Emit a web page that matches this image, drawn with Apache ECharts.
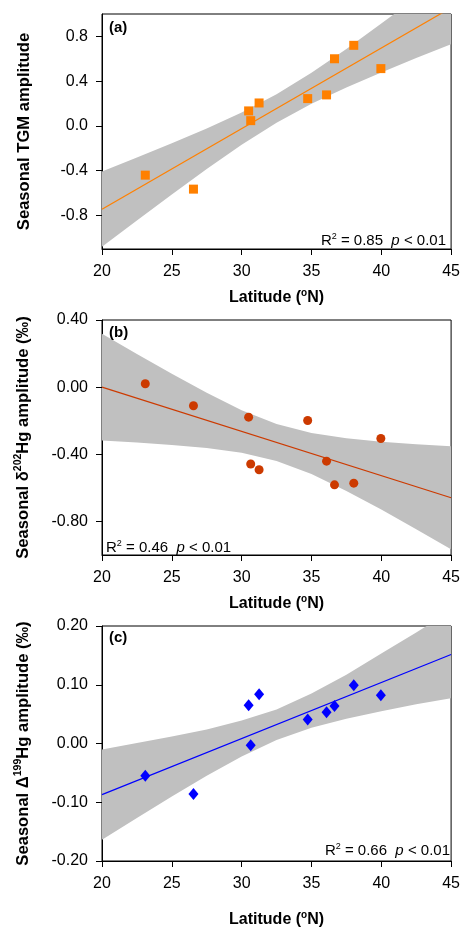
<!DOCTYPE html>
<html>
<head>
<meta charset="utf-8">
<script src="https://cdn.jsdelivr.net/npm/echarts@6/dist/echarts.min.js"></script>
<style>
html,body{margin:0;padding:0;background:#fff;}
#chart{width:463px;height:929px;}
</style>
</head>
<body>
<div id="chart"></div>
<script>
// ---- data ----
const latitude = [23.1, 26.55, 30.5, 30.65, 31.25, 34.73, 36.08, 36.65, 38.03, 39.97];
const tgmAmp   = [-0.44, -0.565, 0.134, 0.047, 0.205, 0.244, 0.277, 0.60, 0.72, 0.512];
const d202Amp  = [0.02, -0.111, -0.179, -0.458, -0.492, -0.199, -0.441, -0.582, -0.572, -0.306];
const D199Amp  = [-0.055, -0.086, 0.065, -0.003, 0.084, 0.041, 0.053, 0.064, 0.099, 0.082];

// regression lines (end points)
const fitX      = [20, 45];
const tgmFitY   = [-0.744, 1.056];
const d202FitY  = [0.0, -0.659];
const D199FitY  = [-0.087, 0.1515];

// confidence bands
const bandX      = [20, 22.5, 25, 27.5, 30, 32.5, 35, 37.5, 40, 42.5, 45];
const tgmUpper   = [-0.407, -0.283, -0.156, -0.023, 0.120, 0.283, 0.474, 0.688, 0.914, 1.146, 1.382];
const tgmLower   = [-1.081, -0.845, -0.612, -0.385, -0.168, 0.029, 0.198, 0.344, 0.478, 0.606, 0.730];
const d202Upper  = [0.318, 0.198, 0.080, -0.033, -0.137, -0.220, -0.273, -0.305, -0.325, -0.340, -0.352];
const d202Lower  = [-0.318, -0.330, -0.344, -0.363, -0.391, -0.440, -0.517, -0.618, -0.729, -0.846, -0.966];
const D199Upper  = [-0.010, 0.001, 0.012, 0.024, 0.039, 0.058, 0.085, 0.117, 0.153, 0.189, 0.226];
const D199Lower  = [-0.164, -0.127, -0.090, -0.055, -0.022, 0.006, 0.027, 0.042, 0.055, 0.067, 0.077];

// axis ticks
const xTicks    = [20, 25, 30, 35, 40, 45];
const tgmTicks  = [-0.8, -0.4, 0.0, 0.4, 0.8];
const d202Ticks = [-0.8, -0.4, 0.0, 0.4];
const D199Ticks = [-0.2, -0.1, 0.0, 0.1, 0.2];

// ---- chart ----
const FONT = 'Liberation Sans, Arial, sans-serif';
const chart = echarts.init(document.getElementById('chart'), null, {renderer: 'canvas'});

const grids = [
  {left: 102, width: 352, top: 14, height: 235},
  {left: 102, width: 352, top: 320, height: 235},
  {left: 102, width: 352, top: 626, height: 235}
].map(g => Object.assign({show: true, borderColor: '#000', borderWidth: 1, backgroundColor: 'transparent'}, g));

const latName = '{n|Latitude (}{s|o}{n|N)}';
const nameRich = {
  n: {fontFamily: FONT, fontWeight: 'bold', fontSize: 16, color: '#000'},
  s: {fontFamily: FONT, fontWeight: 'bold', fontSize: 10, color: '#000', padding: [0, 0, 9, 0]}
};
const yNameRich = {
  n: {fontFamily: FONT, fontWeight: 'bold', fontSize: 16.6, color: '#000'},
  s: {fontFamily: FONT, fontWeight: 'bold', fontSize: 10.5, color: '#000', padding: [0, 0, 9, 0]}
};

function xAxis(i, gap) {
  return {
    type: 'value', gridIndex: i, min: 20, max: 45, interval: 5,
    name: latName, nameLocation: 'middle', nameGap: gap,
    nameTextStyle: {rich: nameRich},
    axisLine: {show: true, onZero: false, lineStyle: {color: '#000', width: 1}},
    axisTick: {show: true, length: 6, inside: false, lineStyle: {color: '#000'}, customValues: xTicks},
    axisLabel: {color: '#000', fontFamily: FONT, fontSize: 16, margin: 15, customValues: xTicks},
    splitLine: {show: false}
  };
}
function yAxis(i, min, max, ticks, dec, name) {
  return {
    type: 'value', gridIndex: i, min: min, max: max,
    name: name, nameLocation: 'middle', nameGap: 69, nameRotate: 90,
    nameTextStyle: {rich: yNameRich},
    axisLine: {show: true, onZero: false, lineStyle: {color: '#000', width: 1}},
    axisTick: {show: true, length: 6, inside: false, lineStyle: {color: '#000'}, customValues: ticks},
    axisLabel: {color: '#000', fontFamily: FONT, fontSize: 16, margin: 14, customValues: ticks,
      formatter: v => (Math.abs(v) < 1e-9 ? 0 : v).toFixed(dec)},
    splitLine: {show: false}
  };
}

function bandSeries(i, upper, lower) {
  return {
    type: 'custom', xAxisIndex: i, yAxisIndex: i, clip: true, silent: true, z: 1,
    data: [[bandX[0], lower[0]]],
    renderItem: function (params, api) {
      const pts = [];
      for (let k = 0; k < bandX.length; k++) pts.push(api.coord([bandX[k], upper[k]]));
      for (let k = bandX.length - 1; k >= 0; k--) pts.push(api.coord([bandX[k], lower[k]]));
      const cs = params.coordSys;
      return {
        type: 'polygon',
        shape: {points: pts},
        style: {fill: '#c0c0c0', stroke: null},
        clipPath: {type: 'rect', shape: {x: cs.x, y: cs.y, width: cs.width, height: cs.height}}
      };
    }
  };
}
function fitSeries(i, ys, color) {
  return {
    type: 'line', xAxisIndex: i, yAxisIndex: i, clip: true, silent: true, z: 2,
    symbol: 'none', data: fitX.map((x, k) => [x, ys[k]]),
    lineStyle: {color: color, width: 1.2}
  };
}
function pointSeries(i, ys, symbol, size, color) {
  return {
    type: 'scatter', xAxisIndex: i, yAxisIndex: i, z: 3,
    symbol: symbol, symbolSize: size,
    data: latitude.map((x, k) => [x, ys[k]]),
    itemStyle: {color: color, opacity: 1}
  };
}

const statRich = {
  r: {fontFamily: FONT, fontSize: 15, color: '#000'},
  s: {fontFamily: FONT, fontSize: 9, color: '#000', padding: [0, 0, 8, 0]},
  i: {fontFamily: FONT, fontSize: 15, color: '#000', fontStyle: 'italic'}
};
function statText(r2) {
  return '{r|R}{s|2}{r| = ' + r2 + '  }{i|p}{r| < 0.01}';
}
function panelLabel(txt, x, y) {
  return {type: 'text', left: x, top: y, z: 10,
    style: {text: txt, fontFamily: FONT, fontWeight: 'bold', fontSize: 15, fill: '#000'}};
}

const option = {
  animation: false,
  backgroundColor: '#fff',
  textStyle: {fontFamily: FONT},
  grid: grids,
  xAxis: [xAxis(0, 39), xAxis(1, 39), xAxis(2, 49)],
  yAxis: [
    yAxis(0, -1.1, 1.0, tgmTicks, 1, '{n|Seasonal TGM amplitude}'),
    yAxis(1, -1.0, 0.4, d202Ticks, 2, '{n|Seasonal δ}{s|202}{n|Hg amplitude (‰)}'),
    yAxis(2, -0.2, 0.2, D199Ticks, 2, '{n|Seasonal Δ}{s|199}{n|Hg amplitude (‰)}')
  ],
  series: [
    bandSeries(0, tgmUpper, tgmLower),
    fitSeries(0, tgmFitY, '#ff8000'),
    pointSeries(0, tgmAmp, 'rect', 9, '#ff8000'),
    bandSeries(1, d202Upper, d202Lower),
    fitSeries(1, d202FitY, '#cc3a00'),
    pointSeries(1, d202Amp, 'circle', 9, '#cc3a00'),
    bandSeries(2, D199Upper, D199Lower),
    fitSeries(2, D199FitY, '#0000ff'),
    pointSeries(2, D199Amp, 'diamond', [10, 12], '#0000ff')
  ],
  graphic: [
    panelLabel('(a)', 109, 20),
    panelLabel('(b)', 109, 325),
    panelLabel('(c)', 109, 630),
    {type: 'text', right: 17, top: 232, z: 10, style: {text: statText('0.85'), rich: statRich}},
    {type: 'text', left: 106, top: 539, z: 10, style: {text: statText('0.46'), rich: statRich}},
    {type: 'text', right: 13, top: 842, z: 10, style: {text: statText('0.66'), rich: statRich}}
  ]
};
chart.setOption(option);
</script>
</body>
</html>
